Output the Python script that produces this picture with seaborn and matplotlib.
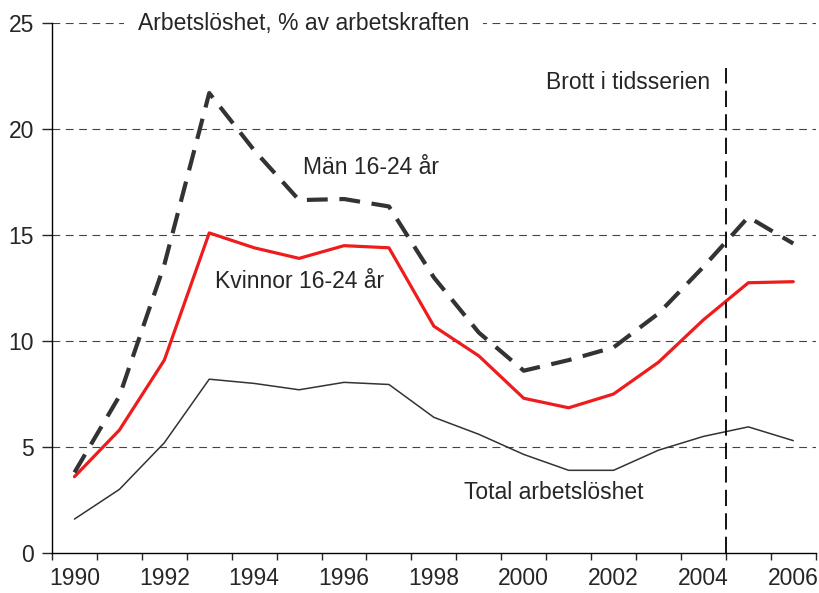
import numpy as np
import pandas as pd
import matplotlib
matplotlib.use("Agg")
import matplotlib.pyplot as plt
import seaborn as sns

# data
years = list(range(1990, 2007))
man_16_24 = [3.8, 7.4, 13.6, 21.7, 19.0, 16.65, 16.7, 16.35, 13.0, 10.4,
             8.6, 9.1, 9.7, 11.3, 13.5, 15.85, 14.6]
kvinnor_16_24 = [3.6, 5.8, 9.1, 15.1, 14.4, 13.9, 14.5, 14.4, 10.7, 9.3,
                 7.3, 6.85, 7.5, 9.0, 11.0, 12.75, 12.8]
total = [1.6, 3.0, 5.2, 8.2, 8.0, 7.7, 8.05, 7.95, 6.4, 5.6,
         4.65, 3.9, 3.9, 4.85, 5.5, 5.95, 5.3]
break_year = 2004.5

df = pd.DataFrame({"year": years, "man": man_16_24,
                   "kvinnor": kvinnor_16_24, "total": total})

sns.set_style("white")
plt.rcParams["font.family"] = ["Liberation Sans", "DejaVu Sans"]
fs = 16.5

fig = plt.figure(figsize=(8.19, 5.93), dpi=100)
ax = fig.add_axes([0.0635, 0.0675, 0.9325, 0.8935])

# gridlines
for v in [5, 10, 15, 20, 25]:
    ax.axhline(v, color="#444444", lw=0.8, ls=(0, (7, 5)), zorder=0)

sns.lineplot(data=df, x="year", y="total", ax=ax, color="#333333", lw=1.1)
sns.lineplot(data=df, x="year", y="kvinnor", ax=ax, color="#ee1c1c", lw=2.3)
line = sns.lineplot(data=df, x="year", y="man", ax=ax, color="#333333", lw=3.0)
line.lines[-1].set_dashes((5, 2.8))

ax.plot([break_year, break_year], [0, 22.9], color="black", lw=1.3,
        ls=(0, (9, 4)), zorder=3)

ax.set_xlim(1989.5, 2006.5)
ax.set_ylim(0, 25)
ax.set_xticks(range(1990, 2007, 2))
ax.set_xticks(np.arange(1989.5, 2007, 1), minor=True)
ax.set_yticks([0, 5, 10, 15, 20, 25])
ax.tick_params(axis="x", which="major", length=0, pad=10, labelsize=fs)
ax.tick_params(axis="x", which="minor", length=5, width=1, direction="out", bottom=True)
ax.tick_params(axis="y", length=7, width=1, direction="out", pad=6, labelsize=fs, left=True)
ax.set_xlabel("")
ax.set_ylabel("")
sns.despine(ax=ax)
for s in ["left", "bottom"]:
    ax.spines[s].set_color("black")
    ax.spines[s].set_linewidth(1)

ax.text(1991.41, 25, "Arbetslöshet, % av arbetskraften", ha="left", va="center",
        fontsize=fs, bbox=dict(facecolor="white", edgecolor="none", pad=10),
        zorder=5, clip_on=False)
ax.text(2004.14, 22.2, "Brott i tidsserien", ha="right", va="center", fontsize=fs)
ax.text(1995.08, 18.2, "Män 16-24 år", ha="left", va="center", fontsize=fs)
ax.text(1993.12, 12.8, "Kvinnor 16-24 år", ha="left", va="center", fontsize=fs)
ax.text(1998.68, 2.85, "Total arbetslöshet", ha="left", va="center", fontsize=fs)

fig.savefig("out.png", dpi=100)
